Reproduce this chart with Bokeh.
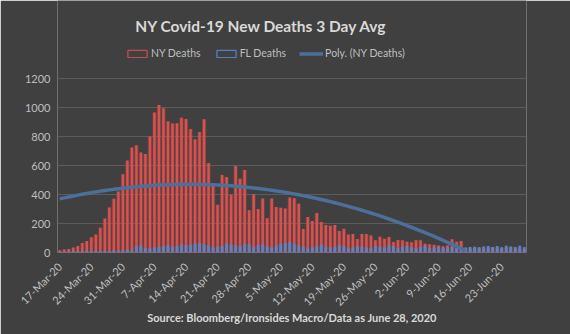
import math
import numpy as np
from bokeh.plotting import figure
from bokeh.models import Range1d, FixedTicker, Label, Legend, LegendItem
from bokeh.embed import file_html
from bokeh.resources import INLINE

# ---- data ----
ny_deaths = [15, 20, 25, 35, 45, 65, 80, 105, 125, 170,
             235, 310, 370, 420, 540, 635, 725, 740, 690, 680,
             800, 965, 1018, 995, 905, 890, 892, 930, 920, 852,
             781, 831, 919, 617, 470, 330, 535, 521, 399, 597,
             508, 569, 292, 401, 300, 372, 236, 372, 314, 308,
             303, 379, 375, 336, 162, 245, 217, 272, 211, 189,
             185, 190, 148, 164, 125, 128, 93, 128, 128, 118,
             85, 108, 95, 107, 72, 86, 84, 75, 70, 84,
             84, 61, 57, 54, 48, 43, 50, 91, 75, 79,
             30, 26, 30, 32, 28, 33, 35, 30, 28, 32,
             35, 30, 28, 25]
fl_deaths = [5, 5, 8, 8, 10, 10, 12, 10, 12, 10,
             12, 10, 15, 12, 15, 20, 15, 45, 50, 30,
             30, 35, 40, 45, 50, 40, 45, 55, 50, 55,
             60, 65, 55, 50, 35, 40, 45, 60, 55, 50,
             45, 60, 55, 40, 50, 55, 45, 35, 50, 60,
             65, 70, 60, 50, 40, 30, 35, 45, 55, 40,
             35, 40, 50, 45, 30, 35, 45, 40, 35, 30,
             45, 40, 35, 50, 45, 30, 40, 45, 35, 30,
             40, 45, 30, 35, 40, 30, 35, 40, 45, 40,
             35, 38, 40, 36, 42, 45, 38, 44, 36, 47,
             42, 38, 46, 37]
tick_days = [0, 7, 14, 21, 28, 35, 42, 49, 56, 63, 70, 77, 84, 91, 98]
tick_labels = ["17-Mar-20", "24-Mar-20", "31-Mar-20", "7-Apr-20", "14-Apr-20",
               "21-Apr-20", "28-Apr-20", "5-May-20", "12-May-20", "19-May-20",
               "26-May-20", "2-Jun-20", "9-Jun-20", "16-Jun-20", "23-Jun-20"]
y_ticks = [0, 200, 400, 600, 800, 1000, 1200]

days = list(range(len(ny_deaths)))
# Excel-style polynomial (order 2) trendline of NY deaths
coef = np.polyfit(np.array(days) + 1, np.array(ny_deaths, dtype=float), 2)
trend = np.polyval(coef, np.array(days) + 1)

BG = "#404040"
TXT = "#bfbfbf"
FONT = "Lato"

# frame spans the full top of the canvas; 1200 sits 78px below the top
FRAME_H = 252
Y_TOP = 1200 * FRAME_H / (FRAME_H - 78)

p = figure(width=570, height=334, output_backend="svg", toolbar_location=None,
           x_range=Range1d(-0.5, len(days) - 0.5), y_range=Range1d(0, Y_TOP),
           min_border_left=57, min_border_right=44, min_border_top=0, min_border_bottom=82)
p.background_fill_color = BG
p.border_fill_color = BG
p.outline_line_color = None

# glow behind red bars
p.vbar(x=days, top=ny_deaths, width=0.95, fill_color="#ff4a4a", fill_alpha=0.24, line_color=None)
ny_r = p.vbar(x=days, top=ny_deaths, width=0.55, fill_color="#d9524f", line_color=None)
p.vbar(x=days, top=fl_deaths, width=0.85, fill_color="#6a8fd6", fill_alpha=0.25, line_color=None)
fl_r = p.vbar(x=days, top=fl_deaths, width=0.55, fill_color="#5b84c6", line_color=None)
tr_r = p.line(x=days, y=np.where(trend >= 0, trend, np.nan), line_color="#4c6f9c", line_width=3.5)

# legend swatches (outlined boxes); their single point sits outside the visible range
leg_ny = p.vbar(x=[-50], top=[0], width=0.5, fill_color=BG, fill_alpha=1,
                line_color="#c0504d", line_width=1.3)
leg_fl = p.vbar(x=[-50], top=[0], width=0.5, fill_color=BG, fill_alpha=1,
                line_color="#4f81bd", line_width=1.3)

legend = Legend(items=[LegendItem(label="NY Deaths", renderers=[leg_ny]),
                       LegendItem(label="FL Deaths", renderers=[leg_fl]),
                       LegendItem(label="Poly. (NY Deaths)", renderers=[tr_r])],
                orientation="horizontal", location=(68, 193))
legend.background_fill_alpha = 0
legend.border_line_alpha = 0
legend.label_text_color = TXT
legend.label_text_font = FONT
legend.label_text_font_size = "10.5px"
legend.glyph_width = 24
legend.glyph_height = 9
legend.label_standoff = 2
legend.spacing = 13
legend.padding = 0
legend.margin = 0
legend.label_height = 12
p.add_layout(legend)

# axes
p.yaxis.ticker = FixedTicker(ticks=y_ticks)
p.yaxis.axis_line_color = None
p.yaxis.major_tick_line_color = None
p.yaxis.minor_tick_line_color = None
p.yaxis.major_label_text_color = TXT
p.yaxis.major_label_text_font = FONT
p.yaxis.major_label_text_font_size = "11px"
p.yaxis.major_label_standoff = 1

p.xaxis.ticker = FixedTicker(ticks=tick_days)
p.xaxis.major_label_overrides = {d: l for d, l in zip(tick_days, tick_labels)}
p.xaxis.major_label_orientation = math.pi / 4
p.xaxis.axis_line_color = None
p.xaxis.major_tick_line_color = None
p.xaxis.minor_tick_line_color = None
p.xaxis.major_label_text_color = TXT
p.xaxis.major_label_text_font = FONT
p.xaxis.major_label_text_font_size = "11px"
p.xaxis.major_label_standoff = 6
# source line as the axis label (sits right under the rotated dates)
p.xaxis.axis_label = "Source: Bloomberg/Ironsides Macro/Data as June 28, 2020"
p.xaxis.axis_label_text_color = "#d9d9d9"
p.xaxis.axis_label_text_font = FONT
p.xaxis.axis_label_text_font_style = "bold"
p.xaxis.axis_label_text_font_size = "11px"
p.xaxis.axis_label_standoff = -4

p.xgrid.grid_line_color = None
p.ygrid.grid_line_color = "#5c5c5c"
p.ygrid.grid_line_width = 1

# title (inside the tall frame)
p.add_layout(Label(x=44.7, y=1200 * (FRAME_H - 25) / (FRAME_H - 78),
                   text="NY Covid-19 New Deaths 3 Day Avg",
                   text_align="center", text_baseline="middle", text_color="#d9d9d9",
                   text_font=FONT, text_font_style="bold", text_font_size="15.5px"))

open("out.html", "w").write(file_html(p, INLINE))
